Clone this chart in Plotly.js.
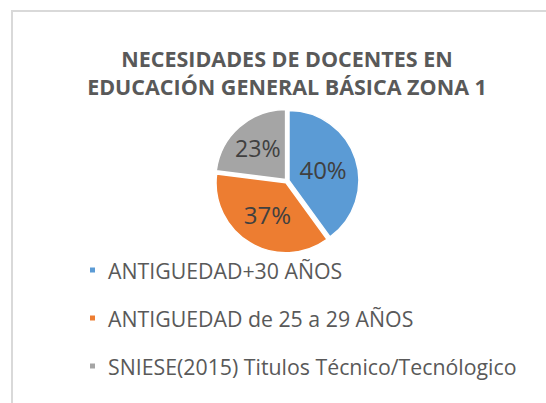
<!DOCTYPE html>
<html>
<head>
<meta charset="utf-8">
<script src="https://cdn.plot.ly/plotly-3.0.1.min.js"></script>
<style>html,body{margin:0;padding:0;background:#fff;}#chart{width:546px;height:403px;}</style>
</head>
<body>
<div id="chart"></div>
<script>
const categories = ["ANTIGUEDAD+30 AÑOS", "ANTIGUEDAD de 25 a 29 AÑOS", "SNIESE(2015) Titulos Técnico/Tecnólogico"];
const values = [40, 37, 23];
const colors = ["#5b9bd5", "#ed7d31", "#a5a5a5"];
const titleText = "NECESIDADES DE DOCENTES EN<br>EDUCACIÓN GENERAL BÁSICA ZONA 1";

const W = 546, H = 403;
const px = x => x / W;
const py = y => 1 - y / H;

const cx = 287, cy = 181, half = 72;

const trace = {
  type: "pie",
  labels: categories,
  values: values,
  sort: false,
  direction: "clockwise",
  rotation: 0,
  pull: [0.03, 0.03, 0.03],
  marker: {colors: colors, line: {color: "#ffffff", width: 1.5}},
  textinfo: "percent",
  textposition: "inside",
  insidetextorientation: "horizontal",
  texttemplate: "%{percent:.0%}",
  textfont: {family: "Open Sans, sans-serif", size: 24, color: "#404040"},
  domain: {x: [px(cx - half), px(cx + half)], y: [py(cy + half), py(cy - half)]},
  showlegend: false,
  hoverinfo: "label+percent"
};

const shapes = [
  {type: "line", xref: "paper", yref: "paper", x0: px(12), x1: px(12), y0: 0, y1: py(11), line: {color: "#d9d9d9", width: 2}},
  {type: "line", xref: "paper", yref: "paper", x0: px(11), x1: 1, y0: py(11), y1: py(11), line: {color: "#d9d9d9", width: 2}}
];
const annotations = [];
const legendY = [270, 318, 366];
categories.forEach((c, i) => {
  shapes.push({type: "rect", xref: "paper", yref: "paper",
    x0: px(90), x1: px(95), y0: py(legendY[i] + 2.5), y1: py(legendY[i] - 2.5),
    fillcolor: colors[i], line: {width: 0}});
  annotations.push({xref: "paper", yref: "paper", x: px(106), y: py(legendY[i]),
    xanchor: "left", yanchor: "middle", showarrow: false, text: c,
    font: {family: "Open Sans, sans-serif", size: 21.3, color: "#595959"}});
});

const layout = {
  width: W, height: H,
  margin: {l: 0, r: 0, t: 0, b: 0},
  paper_bgcolor: "#ffffff",
  plot_bgcolor: "#ffffff",
  title: {
    text: titleText,
    x: px(287), xanchor: "center",
    y: py(67), yanchor: "top", yref: "container",
    font: {family: "Open Sans, sans-serif", size: 21.5, color: "#595959", weight: "bold"}
  },
  showlegend: false,
  shapes: shapes,
  annotations: annotations
};

Plotly.newPlot("chart", [trace], layout, {displayModeBar: false, staticPlot: true});
</script>
</body>
</html>
